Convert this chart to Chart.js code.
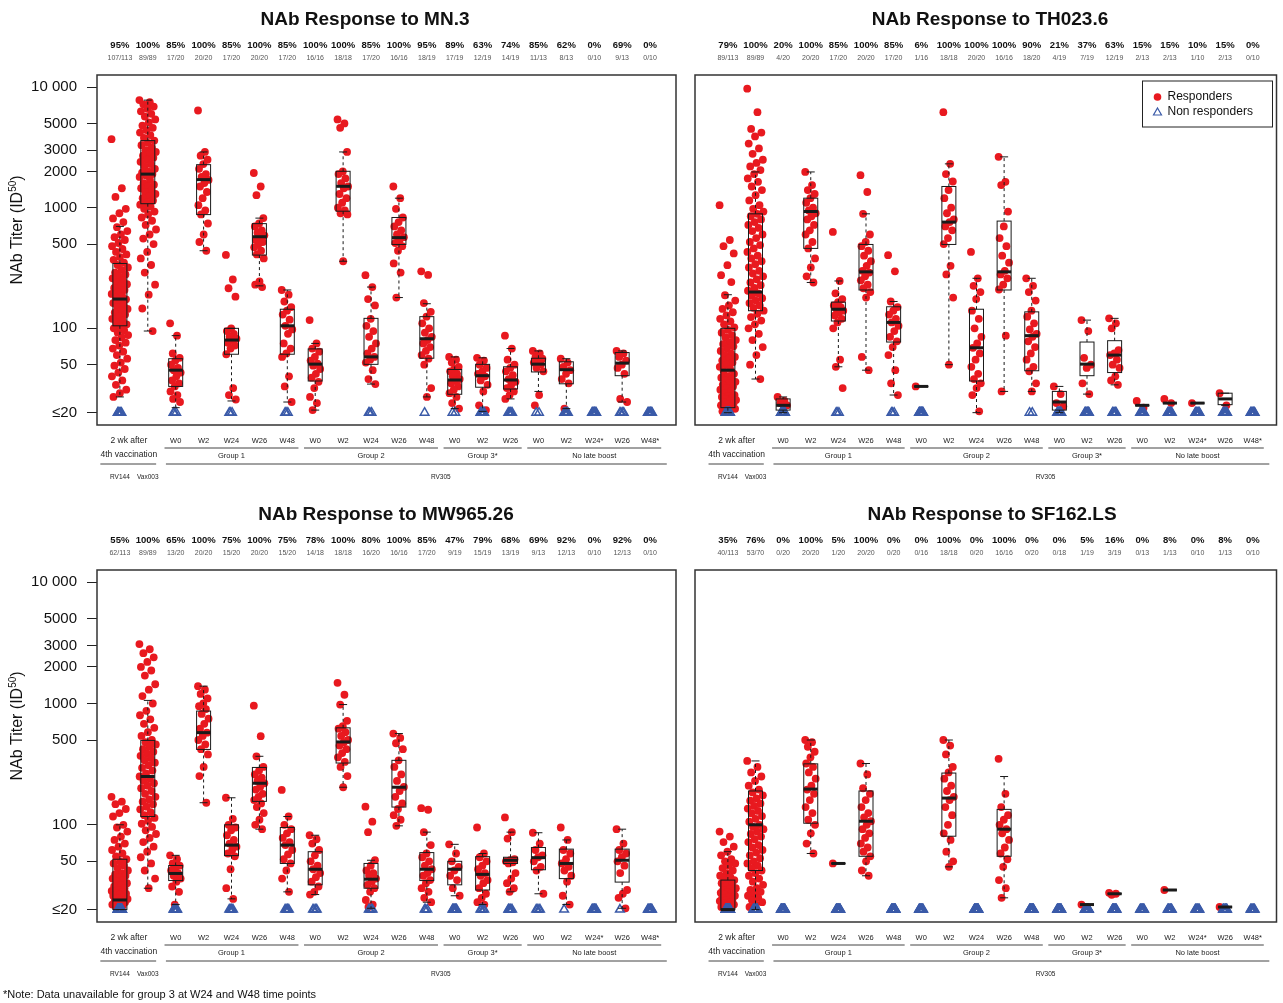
<!DOCTYPE html>
<html>
<head>
<meta charset="utf-8">
<script src="https://cdn.jsdelivr.net/npm/chart.js@4.4.1/dist/chart.umd.min.js"></script>
<style>
body { margin: 0; background: #fff; width: 1283px; height: 1003px; overflow: hidden; position: relative; }
canvas { position: absolute; }
</style>
</head>
<body>
<canvas id="mn3" width="685" height="495" style="left:0;top:0"></canvas>
<canvas id="th023" width="598" height="495" style="left:685px;top:0"></canvas>
<canvas id="mw965" width="685" height="508" style="left:0;top:495px"></canvas>
<canvas id="sf162" width="598" height="508" style="left:685px;top:495px"></canvas>
<script>
// shared axis stuff
const colLabels = ['', '', 'W0', 'W2', 'W24', 'W26', 'W48', 'W0', 'W2', 'W24', 'W26', 'W48', 'W0', 'W2', 'W26', 'W0', 'W2', 'W24*', 'W26', 'W48*'];
const groupNames = ['Group 1', 'Group 2', 'Group 3*', 'No late boost'];
const groupStart = [2, 7, 12, 15];
const groupEnd = [6, 11, 14, 19];
const yTicks = [20, 50, 100, 500, 1000, 2000, 3000, 5000, 10000];

// MN.3
const mn3Pct = ['95%', '100%', '85%', '100%', '85%', '100%', '85%', '100%', '100%', '85%', '100%', '95%', '89%', '63%', '74%', '85%', '62%', '0%', '69%', '0%'];
const mn3Frac = ['107/113', '89/89', '17/20', '20/20', '17/20', '20/20', '17/20', '16/16', '18/18', '17/20', '16/16', '18/19', '17/19', '12/19', '14/19', '11/13', '8/13', '0/10', '9/13', '0/10'];
const mn3Resp = [
    [3700, 1450, 1230, 980, 900, 815, 760, 690, 640, 600, 570, 540, 510, 480, 455, 430, 410, 390, 370, 350, 335, 320, 305, 290, 280, 270, 260, 250, 240, 232, 224, 216, 208, 200, 193, 186, 180, 174, 168, 162, 156, 150, 145, 140, 135, 130, 125, 120, 116, 112, 108, 104, 100, 96, 92, 88, 84, 80, 76, 72, 68, 64, 60, 56, 52, 49, 46, 43, 40, 37, 34, 31, 29, 27],
    [7800, 7500, 7200, 6900, 6600, 6300, 6000, 5700, 5400, 5100, 4800, 4600, 4400, 4200, 4000, 3800, 3600, 3450, 3300, 3150, 3000, 2900, 2800, 2700, 2600, 2500, 2400, 2300, 2200, 2100, 2000, 1950, 1900, 1850, 1800, 1700, 1600, 1550, 1500, 1450, 1400, 1350, 1300, 1250, 1200, 1150, 1100, 1060, 1020, 980, 930, 880, 830, 780, 720, 660, 600, 555, 500, 430, 380, 335, 290, 230, 190, 146, 95],
    [110, 87, 62, 57, 54, 50, 47, 45, 43, 40, 37, 35, 33, 30, 28, 26, 24.5],
    [6400, 2900, 2700, 2500, 2300, 2100, 1900, 1800, 1700, 1600, 1500, 1350, 1200, 1050, 950, 880, 740, 600, 520, 440],
    [406, 254, 215, 183, 100, 95, 90, 85, 82, 80, 76, 72, 68, 61, 32, 28, 25.7],
    [1940, 1500, 1270, 820, 740, 700, 650, 620, 590, 560, 540, 520, 500, 470, 440, 410, 380, 245, 230, 220],
    [208, 190, 167, 150, 140, 130, 118, 105, 98, 90, 75, 68, 62, 58, 40, 33, 24.5],
    [117, 75, 68, 64, 58, 54, 51, 49, 46, 42, 39, 36, 32, 27, 24, 21],
    [5400, 5000, 4600, 2900, 2000, 1900, 1750, 1600, 1500, 1450, 1300, 1200, 1100, 1000, 950, 900, 880, 360],
    [276, 220, 175, 155, 120, 105, 95, 85, 75, 68, 62, 58, 55, 52, 45, 38, 34.5],
    [1500, 1200, 980, 830, 760, 700, 650, 600, 570, 540, 510, 480, 440, 345, 290, 180],
    [297, 277, 162, 137, 125, 110, 100, 92, 85, 80, 75, 70, 65, 60, 56, 50, 32, 27],
    [58, 55, 52, 48, 46, 44, 42, 40, 38, 37, 35, 33, 31, 29, 27, 24, 21.6],
    [57, 54, 50, 47, 44, 42, 40, 37, 34, 30, 23, 21],
    [87, 68, 55, 50, 47, 44, 41, 38, 36, 34, 32, 30, 28, 26],
    [65, 62, 58, 56, 54, 52, 50, 47, 44, 28, 23],
    [56, 52, 48, 45, 42, 38, 35, 21.6],
    [],
    [65, 62, 58, 54, 50, 47, 42, 26, 24.5],
    []
];
// box: [low whisker, q1, median, q3, high whisker]
const mn3Box = [
    [27, 105, 175, 345, 700], [95, 1080, 1900, 3600, 7800], [22, 33, 45, 56, 87], [440, 877, 1710, 2275, 2900],
    [25, 61, 80, 100, 100], [225, 405, 575, 738, 820], [24.5, 61, 105, 144, 208], [21, 36.6, 50.5, 67.5, 75],
    [360, 936, 1505, 2005, 2900], [34.5, 50.3, 58, 121, 220], [180, 496, 565, 830, 1200], [27, 56.5, 82, 125, 160],
    [21.6, 28.4, 37.3, 45.6, 58], [20.5, 32.5, 40.5, 50.3, 57], [26, 31.4, 37.3, 48, 68], [30, 43.5, 50.5, 56.5, 65],
    [21.6, 34.7, 45.4, 52.8, 56], null, [24.5, 40.5, 51.5, 63, 65], null
];

// TH023.6
const thPct = ['79%', '100%', '20%', '100%', '85%', '100%', '85%', '6%', '100%', '100%', '100%', '90%', '21%', '37%', '63%', '15%', '15%', '10%', '15%', '0%'];
const thFrac = ['89/113', '89/89', '4/20', '20/20', '17/20', '20/20', '17/20', '1/16', '18/18', '20/20', '16/16', '18/20', '4/19', '7/19', '12/19', '2/13', '2/13', '1/10', '2/13', '0/10'];
const thResp = [
    [1050, 540, 480, 418, 334, 276, 242, 188, 170, 155, 145, 136, 128, 120, 114, 108, 102, 97, 92, 88, 84, 80, 77, 74, 71, 68, 65, 62, 60, 58, 56, 54, 52, 50, 48, 46, 44, 42, 40, 39, 38, 37, 36, 35, 34, 33, 32, 31, 30, 29, 28, 27.5, 27, 26.5, 26, 25.5, 25, 24.5, 24, 23.5, 23, 22.5, 22, 21.5, 21, 20.5],
    [9700, 6200, 4500, 4200, 3900, 3400, 3100, 2800, 2500, 2350, 2200, 2050, 1900, 1750, 1640, 1500, 1400, 1270, 1150, 1050, 980, 930, 890, 850, 800, 760, 720, 680, 640, 600, 560, 520, 490, 460, 430, 400, 380, 360, 340, 320, 300, 285, 270, 255, 240, 228, 216, 205, 195, 186, 178, 170, 162, 155, 148, 140, 132, 124, 116, 108, 100, 90, 80, 70, 60, 50, 38],
    [27, 25, 24, 23],
    [1980, 1540, 1400, 1300, 1200, 1100, 1000, 950, 900, 850, 800, 720, 650, 600, 520, 460, 380, 320, 270, 240],
    [630, 247, 195, 175, 165, 155, 150, 145, 140, 135, 128, 120, 112, 100, 55, 48, 32],
    [1860, 1350, 890, 600, 520, 480, 440, 400, 360, 330, 300, 290, 270, 250, 230, 215, 200, 180, 58, 45],
    [404, 297, 167, 150, 140, 130, 120, 112, 105, 95, 85, 78, 70, 60, 45, 35, 28],
    [33],
    [6200, 2310, 1900, 1650, 1400, 1200, 1000, 900, 800, 760, 700, 650, 560, 500, 330, 280, 180, 50],
    [430, 260, 225, 200, 175, 140, 120, 100, 85, 75, 69, 62, 55, 48, 42, 38, 35, 32, 28, 20.5],
    [2640, 1640, 1540, 930, 700, 560, 480, 400, 350, 300, 280, 260, 230, 210, 87, 30],
    [260, 225, 200, 170, 140, 125, 110, 98, 90, 85, 78, 70, 62, 55, 48, 44, 35, 30],
    [33, 28.5, 24, 22.5],
    [117, 95, 57, 50, 47, 35, 28.5],
    [121, 110, 100, 66, 62, 60, 55, 50, 47, 40, 37, 34],
    [25, 22],
    [26, 24],
    [24],
    [29, 23],
    []
];
const thBox = [
    [20, 22, 45, 100, 190], [38, 140, 200, 890, 1980], [20, 21, 23, 26, 27], [240, 460, 930, 1200, 1980],
    [48, 115, 144, 165, 247], [45, 208, 294, 496, 890], [28, 77, 112, 151, 167], [33, 33, 33, 33, 33],
    [50, 496, 760, 1500, 2310], [20, 36.6, 69, 144, 260], [30, 208, 294, 775, 2640], [30, 44.5, 87, 137, 260],
    [20, 21, 24.5, 30, 33], [28.5, 40.5, 50.5, 77, 117], [34, 43, 60, 79, 121], [23, 23, 23, 23, 23],
    [24, 24, 24, 24, 24], [24, 24, 24, 24, 24], [23, 23.3, 26, 29, 29], null
];

// MW965.26
const mwPct = ['55%', '100%', '65%', '100%', '75%', '100%', '75%', '78%', '100%', '80%', '100%', '85%', '47%', '79%', '68%', '69%', '92%', '0%', '92%', '0%'];
const mwFrac = ['62/113', '89/89', '13/20', '20/20', '15/20', '20/20', '15/20', '14/18', '18/18', '16/20', '16/16', '17/20', '9/19', '15/19', '13/19', '9/13', '12/13', '0/10', '12/13', '0/10'];
const mwResp = [
    [170, 155, 148, 135, 125, 117, 100, 95, 88, 80, 75, 70, 66, 62, 58, 55, 52, 50, 48, 46, 44, 42, 40, 39, 38, 37, 36, 35, 34, 33, 32, 31, 30, 29, 28.5, 28, 27.5, 27, 26.5, 26, 25.5, 25, 24.5, 24, 23.5, 23, 22.5, 22, 21.5, 21],
    [3090, 2800, 2600, 2400, 2200, 2000, 1870, 1700, 1440, 1300, 1150, 1000, 870, 800, 740, 680, 630, 580, 540, 500, 480, 460, 440, 420, 400, 385, 370, 355, 340, 325, 310, 295, 280, 265, 250, 240, 230, 220, 210, 200, 190, 180, 170, 162, 155, 148, 141, 134, 127, 120, 114, 108, 102, 96, 90, 84, 78, 72, 66, 60, 54, 48, 42, 36, 30],
    [56, 52, 48, 46, 44, 42, 40, 38, 36, 34, 31, 28, 22],
    [1390, 1300, 1200, 1100, 1000, 950, 900, 820, 750, 680, 620, 575, 540, 500, 460, 420, 380, 300, 252, 152],
    [167, 112, 100, 95, 90, 82, 75, 70, 66, 62, 58, 55, 43, 30, 24.5],
    [960, 538, 367, 300, 280, 260, 245, 230, 220, 205, 195, 180, 170, 160, 150, 140, 125, 110, 100, 92],
    [194, 117, 100, 92, 85, 78, 72, 68, 62, 57, 52, 48, 42, 36, 28],
    [82, 76, 70, 62, 56, 50, 46, 43, 40, 37, 34, 31, 28, 26.6],
    [1480, 1180, 980, 720, 650, 620, 580, 540, 500, 480, 450, 420, 390, 360, 330, 300, 252, 204],
    [141, 106, 87, 51, 46, 42, 40, 38, 36, 34, 32, 30, 28, 24, 22, 21],
    [565, 520, 470, 420, 340, 300, 260, 230, 205, 190, 170, 150, 135, 120, 110, 98],
    [137, 133, 87, 68, 58, 54, 50, 46, 43, 40, 38, 35, 33, 30, 28, 25, 23],
    [69, 58, 50, 45, 42, 38, 35, 30, 26],
    [95, 58, 54, 50, 46, 43, 40, 38, 35, 33, 30, 27, 25, 23, 22],
    [115, 87, 77, 52, 51, 50, 49, 48, 40, 36, 33, 30, 28],
    [86, 70, 62, 56, 54, 50, 45, 42, 27],
    [95, 75, 62, 58, 52, 48, 45, 42, 38, 34, 26, 22],
    [],
    [92, 70, 62, 58, 54, 50, 46, 40, 29, 27, 25, 20.5],
    []
];
const mwBox = [
    [20, 20, 24, 52, 100], [30, 117, 250, 496, 1060], [22, 34.7, 39.7, 46.2, 56], [152, 418, 575, 866, 1390],
    [24.5, 55.7, 68, 100, 167], [92, 156, 220, 297, 367], [28, 48, 68, 95, 117], [26.6, 32, 43, 60, 82],
    [204, 323, 482, 630, 980], [20.5, 30, 35.6, 48, 51], [98, 140, 204, 340, 565], [23, 34.7, 43, 59, 87],
    [26, 32, 43, 50, 69], [22, 29, 39, 54.6, 58], [28, 48, 51, 54, 87], [27, 42.6, 53.6, 65, 86],
    [22, 36, 48, 63, 75], null, [20.5, 33.7, 51, 63, 92], null
];

// SF162.LS
const sfPct = ['35%', '76%', '0%', '100%', '5%', '100%', '0%', '0%', '100%', '0%', '100%', '0%', '0%', '5%', '16%', '0%', '8%', '0%', '8%', '0%'];
const sfFrac = ['40/113', '53/70', '0/20', '20/20', '1/20', '20/20', '0/20', '0/16', '18/18', '0/20', '16/16', '0/20', '0/18', '1/19', '3/19', '0/13', '1/13', '0/10', '1/13', '0/10'];
const sfResp = [
    [88, 80, 72, 66, 60, 56, 52, 50, 48, 46, 44, 42, 40, 38, 37, 36, 35, 34, 33, 32, 31, 30, 29.5, 29, 28.5, 28, 27.5, 27, 26.5, 26, 25.5, 25, 24.5, 24, 23.5, 23, 22.5, 22, 21.5, 21],
    [336, 300, 270, 250, 230, 210, 195, 185, 175, 165, 158, 150, 143, 136, 130, 124, 118, 112, 106, 100, 96, 92, 88, 84, 80, 76, 72, 68, 65, 62, 59, 56, 53, 50, 48, 46, 44, 42, 40, 38, 36, 34, 32, 30, 29, 28, 27, 26, 25, 24, 23, 22, 21],
    [],
    [500, 480, 440, 400, 360, 320, 300, 270, 240, 210, 195, 180, 160, 140, 125, 110, 100, 85, 70, 58],
    [48],
    [320, 260, 200, 180, 160, 140, 125, 115, 107, 100, 92, 85, 78, 70, 65, 60, 55, 50, 42, 38],
    [],
    [],
    [500, 450, 380, 300, 270, 240, 210, 190, 170, 160, 140, 120, 100, 85, 75, 60, 50, 45],
    [],
    [350, 180, 140, 120, 110, 100, 92, 85, 75, 65, 58, 52, 45, 35, 30, 25],
    [],
    [],
    [22],
    [27.5, 27, 26.5],
    [],
    [29],
    [],
    [21],
    []
];
const sfBox = [
    [20, 20, 20, 35, 60], [20, 42, 100, 190, 336], null, [58, 103, 197, 318, 500],
    [48, 48, 48, 48, 48], [38, 55, 107, 190, 320], null, null,
    [45, 80.5, 166, 267, 500], null, [25, 55, 92, 134, 250], null,
    null, [22, 22, 22, 22, 22], [27, 27, 27, 27, 27], null,
    [29, 29, 29, 29, 29], null, [21, 21, 21, 21, 21], null
];

// little spread so the dots don't sit on one line
function jit(k, amp) {
    return ((k * 0.618034) % 1 - 0.5) * 2 * amp;
}

function line(ctx, x1, y1, x2, y2) {
    ctx.beginPath();
    ctx.moveTo(x1, y1);
    ctx.lineTo(x2, y2);
    ctx.stroke();
}

// boxes, header, group labels etc
const decor = {
    id: 'decor',
    afterDatasetsDraw(chart, args, o) {
        const ctx = chart.ctx, xs = chart.scales.x, ys = chart.scales.y;
        ctx.save();
        ctx.strokeStyle = '#1a1a1a';
        o.box.forEach((b, i) => {
            if (!b) return;
            const x = xs.getPixelForValue(i);
            const [lo, q1, md, q3, hi] = b.map(v => ys.getPixelForValue(v));
            ctx.lineWidth = 1;
            ctx.setLineDash([3, 3]);
            line(ctx, x, q3, x, hi);
            line(ctx, x, q1, x, lo);
            ctx.setLineDash([]);
            line(ctx, x - 4, hi, x + 4, hi);
            line(ctx, x - 4, lo, x + 4, lo);
            ctx.strokeRect(x - 7, q3, 14, q1 - q3);
            ctx.lineWidth = 3;
            line(ctx, x - 7, md, x + 7, md);
        });
        ctx.restore();
    },
    afterDraw(chart, args, o) {
        const ctx = chart.ctx, xs = chart.scales.x;
        const {left, right, top, bottom} = chart.chartArea;
        ctx.save();
        ctx.strokeStyle = '#333';
        ctx.lineWidth = 1.5;
        ctx.strokeRect(left, top, right - left, bottom - top);

        ctx.fillStyle = '#111';
        ctx.textAlign = 'center';
        ctx.textBaseline = 'middle';
        ctx.font = 'bold 19px Arial';
        ctx.fillText(o.title, o.titleX, top - 55);

        for (let i = 0; i < 20; i++) {
            const x = xs.getPixelForValue(i);
            ctx.fillStyle = '#111';
            ctx.font = 'bold 9.5px Arial';
            ctx.fillText(o.pct[i], x, top - 30);
            ctx.fillStyle = '#555';
            ctx.font = '7px Arial';
            ctx.fillText(o.frac[i], x, top - 17);
            if (colLabels[i]) {
                ctx.fillStyle = '#222';
                ctx.font = '7.5px Arial';
                ctx.fillText(colLabels[i], x, bottom + 16);
            }
        }

        // bottom group labels
        ctx.fillStyle = '#222';
        ctx.strokeStyle = '#444';
        ctx.lineWidth = 1;
        ctx.font = '8.5px Arial';
        const mid01 = (xs.getPixelForValue(0) + xs.getPixelForValue(1)) / 2 - 5;
        ctx.fillText('2 wk after', mid01, bottom + 16);
        ctx.fillText('4th vaccination', mid01, bottom + 30);
        ctx.font = '7.5px Arial';
        groupNames.forEach((g, j) => {
            const a = xs.getPixelForValue(groupStart[j] - 0.4), b = xs.getPixelForValue(groupEnd[j] + 0.4);
            line(ctx, a, bottom + 23, b, bottom + 23);
            ctx.fillText(g, (a + b) / 2, bottom + 31);
        });
        line(ctx, xs.getPixelForValue(-0.7), bottom + 39, xs.getPixelForValue(1.3), bottom + 39);
        line(ctx, xs.getPixelForValue(1.65), bottom + 39, xs.getPixelForValue(19.6), bottom + 39);
        ctx.font = '6.5px Arial';
        ctx.fillText('RV144', xs.getPixelForValue(0), bottom + 52);
        ctx.fillText('Vax003', xs.getPixelForValue(1), bottom + 52);
        ctx.fillText('RV305', xs.getPixelForValue(11.5), bottom + 52);

        if (o.yTitle) {
            ctx.save();
            ctx.translate(18, (top + bottom) / 2 - 20);
            ctx.rotate(-Math.PI / 2);
            ctx.fillStyle = '#111';
            ctx.textAlign = 'left';
            ctx.font = '16px Arial';
            const wa = ctx.measureText('NAb Titer (ID').width;
            ctx.font = '10px Arial';
            const wb = ctx.measureText('50').width;
            ctx.font = '16px Arial';
            const wc = ctx.measureText(')').width;
            const x0 = -(wa + wb + wc) / 2;
            ctx.fillText('NAb Titer (ID', x0, 0);
            ctx.fillText(')', x0 + wa + wb, 0);
            ctx.font = '10px Arial';
            ctx.fillText('50', x0 + wa, -5);
            ctx.restore();
        }

        if (o.legend) {
            const lx = right - 134, ly = top + 6;
            ctx.strokeStyle = '#222';
            ctx.lineWidth = 1;
            ctx.strokeRect(lx, ly, 130, 46);
            ctx.fillStyle = '#e8191f';
            ctx.beginPath();
            ctx.arc(lx + 15, ly + 16, 3.8, 0, Math.PI * 2);
            ctx.fill();
            ctx.strokeStyle = '#3a5aa8';
            ctx.lineWidth = 1.2;
            ctx.beginPath();
            ctx.moveTo(lx + 15, ly + 27);
            ctx.lineTo(lx + 19, ly + 34);
            ctx.lineTo(lx + 11, ly + 34);
            ctx.closePath();
            ctx.stroke();
            ctx.fillStyle = '#111';
            ctx.textAlign = 'left';
            ctx.font = '12px Arial';
            ctx.fillText('Responders', lx + 25, ly + 16);
            ctx.fillText('Non responders', lx + 25, ly + 31);
        }

        if (o.note) {
            ctx.fillStyle = '#111';
            ctx.textAlign = 'left';
            ctx.font = '11px Arial';
            ctx.fillText(o.note, 3, chart.height - 8);
        }
        ctx.restore();
    }
};

function makePanel(id, title, titleX, pct, frac, resp, box, opt) {
    const respPts = [], nrPts = [];
    resp.forEach((vals, i) => {
        const amp = vals.length > 30 ? 0.3 : 0.2;
        vals.forEach((v, k) => respPts.push({x: i + jit(k, amp), y: v}));
        const [r, n] = frac[i].split('/').map(Number);
        for (let k = 0; k < n - r; k++) nrPts.push({x: i + jit(k, 0.08), y: 20});
    });

    const ctx = document.getElementById(id).getContext('2d');
    return new Chart(ctx, {
        type: 'scatter',
        data: {
            datasets: [{
                label: 'Non responders',
                data: nrPts,
                pointStyle: 'triangle',
                pointRadius: 5,
                backgroundColor: 'rgba(0,0,0,0)',
                borderColor: '#3a5aa8',
                borderWidth: 1.5
            }, {
                label: 'Responders',
                data: respPts,
                pointRadius: 3.9,
                backgroundColor: '#e8191f',
                borderWidth: 0
            }]
        },
        options: {
            responsive: false,
            animation: false,
            layout: {padding: {left: opt.showY ? 0 : 10, right: opt.padR, top: 75, bottom: opt.padB}},
            plugins: {
                legend: {display: false},
                tooltip: {enabled: false},
                decor: {title: title, titleX: titleX, pct: pct, frac: frac, box: box, yTitle: opt.showY, legend: opt.legend, note: opt.note}
            },
            scales: {
                x: {type: 'linear', min: opt.xmin, max: opt.xmax, display: false},
                y: {
                    type: 'logarithmic',
                    min: 15.8,
                    max: 12600,
                    display: opt.showY,
                    afterFit: s => { s.width = opt.showY ? 97 : 0; },
                    afterBuildTicks: s => { s.ticks = yTicks.map(v => ({value: v})); },
                    ticks: {
                        callback: v => v === 20 ? '≤20' : v === 10000 ? '10 000' : String(v),
                        font: {size: 15, family: 'Arial'},
                        color: '#111',
                        padding: 10,
                        autoSkip: false
                    },
                    grid: {drawOnChartArea: false, drawTicks: true, tickLength: 10, color: '#222'},
                    border: {display: false}
                }
            }
        },
        plugins: [decor]
    });
}

makePanel('mn3', 'NAb Response to MN.3', 365, mn3Pct, mn3Frac, mn3Resp, mn3Box,
    {showY: true, padR: 9, padB: 70, xmin: -0.82, xmax: 19.93});
makePanel('th023', 'NAb Response to TH023.6', 305, thPct, thFrac, thResp, thBox,
    {showY: false, padR: 3, padB: 70, xmin: -1.19, xmax: 19.86, legend: true});
makePanel('mw965', 'NAb Response to MW965.26', 386, mwPct, mwFrac, mwResp, mwBox,
    {showY: true, padR: 9, padB: 81, xmin: -0.82, xmax: 19.93, note: '*Note: Data unavailable for group 3 at W24 and W48 time points'});
makePanel('sf162', 'NAb Response to SF162.LS', 307, sfPct, sfFrac, sfResp, sfBox,
    {showY: false, padR: 3, padB: 81, xmin: -1.19, xmax: 19.86});
</script>
</body>
</html>
